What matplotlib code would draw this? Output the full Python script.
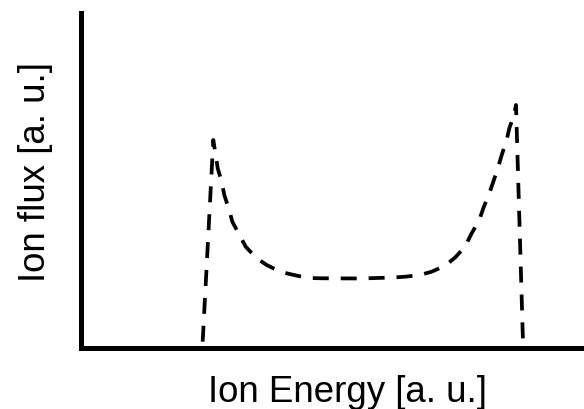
import matplotlib
matplotlib.use("Agg")
import matplotlib.pyplot as plt

plt.rcParams['font.family'] = ['Liberation Sans', 'DejaVu Sans']
plt.rcParams['lines.scale_dashes'] = False

# ion energy distribution, arbitrary units
energy = [24.19, 26.30, 27.18, 27.97, 28.49, 29.42, 30.08, 31.61, 32.74,
          34.93, 36.92, 39.56, 42.01, 45.07, 47.85, 55.47, 62.03, 64.41,
          67.40, 69.72, 72.37, 74.35, 76.34, 77.67, 79.18, 79.98, 81.17,
          81.97, 82.96, 83.64, 84.63, 85.15, 86.08, 86.48, 87.87]
flux = [1.88, 62.09, 53.64, 49.64, 45.67, 41.40, 37.70, 33.43, 30.24,
        26.78, 24.78, 22.78, 21.90, 20.90, 20.81, 20.75, 21.04, 21.28,
        21.79, 22.78, 24.57, 26.96, 30.24, 34.24, 38.21, 41.70, 46.18,
        49.64, 54.12, 57.61, 62.09, 65.58, 69.55, 72.54, 1.79]

W, H = 584, 409
fig = plt.figure(figsize=(W / 100, H / 100), dpi=100)
ax = fig.add_axes([81 / W, 1 - 348 / H, 1 - 81 / W, (348 - 13) / H])

ax.plot(energy, flux, color='black', lw=2.7, linestyle=(0, (11.5, 8.6)),
        dash_capstyle='butt', solid_joinstyle='miter')

ax.set_xlim(0, 100)
ax.set_ylim(0, 100)
ax.set_xticks([])
ax.set_yticks([])
for s in ['top', 'right']:
    ax.spines[s].set_visible(False)
for s in ['left', 'bottom']:
    ax.spines[s].set_linewidth(3.6)
    ax.spines[s].set_capstyle('projecting')

fig.text(347 / W, 1 - 402 / H, 'Ion Energy [a. u.]', fontsize=26.4,
         ha='center', va='baseline')
fig.text(45 / W, 1 - 172 / H, 'Ion flux [a. u.]', fontsize=26.4,
         rotation=90, rotation_mode='anchor', ha='center', va='baseline')

fig.savefig('out.png', dpi=100)
